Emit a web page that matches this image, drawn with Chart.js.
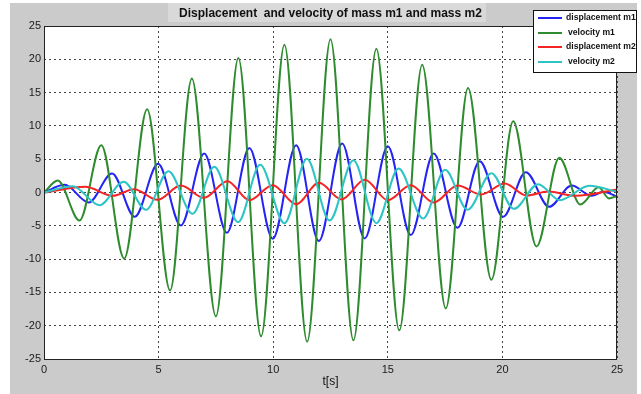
<!DOCTYPE html>
<html>
<head>
<meta charset="utf-8">
<script src="https://cdn.jsdelivr.net/npm/chart.js@4.4.1/dist/chart.umd.min.js"></script>
<style>
  html, body { margin: 0; padding: 0; background: #fff; }
  canvas { display: block; }
</style>
</head>
<body>
<canvas id="motionChart" width="641" height="394"></canvas>
<script>
const chartTitle = 'Displacement  and velocity of mass m1 and mass m2';
const xAxisTitle = 't[s]';
const seriesLabels = ['displacement m1', 'velocity m1', 'displacement m2', 'velocity m2'];
const xTicks = [0, 5, 10, 15, 20, 25];
const yTicks = [-25, -20, -15, -10, -5, 0, 5, 10, 15, 20, 25];

// turning points (time, value)
const tDispM1 = [0, 0.9, 1.95, 2.97, 3.96, 4.98, 5.97, 6.99, 7.98, 8.96, 9.98, 11.0, 11.99, 13.01, 13.99, 15.0, 16.0, 17.0, 18.04, 19.01, 20.03, 21.02, 22.04, 23.02, 23.9, 24.4, 25];
const dispM1 = [0, 1.15, -1.5, 2.85, -3.65, 4.3, -4.95, 5.85, -6.05, 6.7, -6.95, 7.1, -7.3, 7.35, -6.9, 6.95, -6.4, 5.85, -5.3, 4.7, -3.65, 3.05, -2.15, 1.05, -0.5, 0.1, -0.6];

const tVelM1 = [0, 0.6, 1.55, 2.5, 3.5, 4.5, 5.5, 6.45, 7.5, 8.48, 9.47, 10.49, 11.48, 12.5, 13.5, 14.5, 15.5, 16.5, 17.53, 18.5, 19.52, 20.47, 21.49, 22.48, 23.4, 24.2, 24.65, 25];
const velM1 = [0, 1.8, -4.2, 7.1, -9.9, 12.5, -14.7, 17.1, -18.6, 20.2, -21.6, 22.2, -22.4, 23.0, -22.2, 21.6, -20.7, 19.2, -17.4, 15.7, -13.1, 10.7, -8.1, 5.2, -1.8, 0.8, -0.9, -0.5];

const tDispM2 = [0, 1.8, 3.0, 3.93, 4.95, 5.97, 6.98, 8.0, 8.96, 9.98, 11.0, 12.0, 12.98, 14.0, 15.0, 16.0, 17.0, 18.05, 19.07, 20.1, 21.05, 22.0, 23.2, 25];
const dispM2 = [0, 0.85, -0.5, 0.5, -1.1, 1.05, -0.8, 1.7, -1.15, 1.1, -1.75, 1.45, -1.05, 1.9, -1.15, 1.1, -1.5, 1.05, -0.3, 1.35, -0.45, 0.15, -0.5, 0.45];

const tVelM2 = [0, 1.25, 2.42, 3.48, 4.45, 5.43, 6.48, 7.43, 8.47, 9.43, 10.49, 11.47, 12.46, 13.5, 14.5, 15.47, 16.54, 17.5, 18.48, 19.52, 20.5, 21.56, 22.5, 23.8, 25];
const velM2 = [0, 0.95, -1.9, 1.6, -2.6, 3.2, -3.2, 3.85, -4.45, 4.15, -4.6, 5.05, -4.2, 4.85, -4.6, 3.6, -3.9, 3.4, -2.6, 2.9, -2.45, 1.25, -1.15, 1.0, 0.1];

const lineColors = ['#2424f4', '#2e8b2e', '#f42424', '#2cc4c4'];
const fontFamily = '"Liberation Sans", Arial, sans-serif';

function toPoints(ts, vs) {
    return ts.map((t, i) => ({ x: t, y: vs[i] }));
}

// grey figure, title band, white axes, box, labels and legend
const matlabFrame = {
    id: 'matlabFrame',
    beforeDraw(chart) {
        const { ctx, chartArea: a } = chart;
        ctx.save();
        ctx.fillStyle = '#fff';
        ctx.fillRect(0, 0, chart.width, chart.height);
        ctx.fillStyle = '#cbcbcb';
        ctx.fillRect(10, 3, 627, 391);
        ctx.fillStyle = '#d9d9d9';
        ctx.fillRect(168, 3, 318, 19);
        ctx.fillStyle = '#fff';
        ctx.fillRect(a.left, a.top, a.right - a.left, a.bottom - a.top);
        ctx.restore();
    },
    afterDraw(chart) {
        const { ctx, chartArea: a } = chart;
        ctx.save();
        ctx.strokeStyle = '#222';
        ctx.lineWidth = 1;
        ctx.strokeRect(a.left + 0.5, a.top + 0.5, a.right - a.left - 1, a.bottom - a.top);

        ctx.fillStyle = '#111';
        ctx.textAlign = 'center';
        ctx.textBaseline = 'middle';
        ctx.font = 'bold 12px ' + fontFamily;
        ctx.fillText(chartTitle, (a.left + a.right) / 2, 14);
        ctx.font = '12px ' + fontFamily;
        ctx.fillText(xAxisTitle, (a.left + a.right) / 2, 382);

        // legend
        const bx = 533, by = 10, bw = 104, bh = 63;
        ctx.fillStyle = '#fff';
        ctx.fillRect(bx, by, bw, bh);
        ctx.strokeStyle = '#111';
        ctx.strokeRect(bx + 0.5, by + 0.5, bw - 1, bh - 1);
        const rows = [18, 33, 47, 62];
        ctx.font = 'bold 8.6px ' + fontFamily;
        ctx.textAlign = 'left';
        seriesLabels.forEach((lab, i) => {
            ctx.strokeStyle = lineColors[i];
            ctx.lineWidth = 2;
            ctx.beginPath();
            ctx.moveTo(538, rows[i]);
            ctx.lineTo(562, rows[i]);
            ctx.stroke();
            ctx.fillStyle = '#111';
            ctx.fillText(lab, lab.startsWith('v') ? 568 : 566, rows[i]);
        });
        ctx.restore();
    }
};

const seriesData = [
    toPoints(tDispM1, dispM1),
    toPoints(tVelM1, velM1),
    toPoints(tDispM2, dispM2),
    toPoints(tVelM2, velM2)
];

const tickFont = { family: fontFamily, size: 11 };

new Chart(document.getElementById('motionChart').getContext('2d'), {
    type: 'line',
    data: {
        datasets: seriesData.map((pts, i) => ({
            label: seriesLabels[i],
            data: pts,
            borderColor: lineColors[i],
            borderWidth: 2,
            pointRadius: 0,
            fill: false,
            cubicInterpolationMode: 'monotone',
            order: 3 - i
        }))
    },
    options: {
        responsive: false,
        animation: false,
        layout: { padding: { left: 9, right: 24, top: 26, bottom: 0 } },
        plugins: {
            legend: { display: false },
            title: { display: false },
            tooltip: { enabled: false }
        },
        scales: {
            x: {
                type: 'linear',
                min: 0,
                max: 25,
                afterBuildTicks: s => { s.ticks = xTicks.map(v => ({ value: v })); },
                afterFit: s => { s.height = 35; },
                ticks: { font: tickFont, color: '#1a1a1a', padding: 4, maxRotation: 0, autoSkip: false },
                grid: { color: '#444', lineWidth: 1, drawTicks: false },
                border: { display: false, dash: [2, 3] }
            },
            y: {
                type: 'linear',
                min: -25,
                max: 25,
                afterBuildTicks: s => { s.ticks = yTicks.map(v => ({ value: v })); },
                afterFit: s => { s.width = 35; },
                ticks: { font: tickFont, color: '#1a1a1a', padding: 3, autoSkip: false },
                grid: { color: '#444', lineWidth: 1, drawTicks: false },
                border: { display: false, dash: [2, 3] }
            }
        }
    },
    plugins: [matlabFrame]
});
</script>
</body>
</html>
